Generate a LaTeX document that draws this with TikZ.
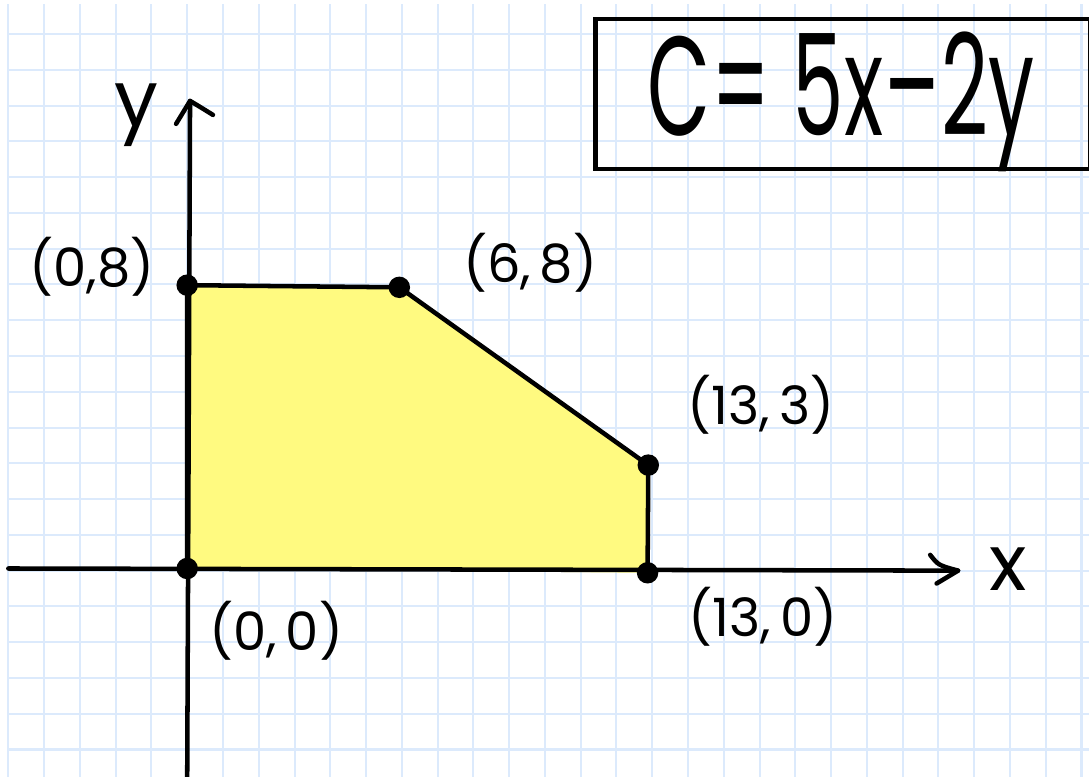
\documentclass[tikz,border=0pt]{standalone}
\usepackage{fontspec}
\setmainfont{Poppins}
\definecolor{gridblue}{RGB}{220,234,252}
\definecolor{fillyellow}{RGB}{255,250,128}
\begin{document}
\begin{tikzpicture}[x=1cm,y=1cm,
  gridline/.style={draw=gridblue, line width=1.6pt},
  ink/.style={draw=black, line width=3.6pt, line cap=round, line join=round},
  vertex/.style={circle, fill=black, inner sep=0pt, minimum size=0.6cm},
  lab/.style={font=\fontsize{42}{46}\selectfont, inner sep=0pt},
  axlab/.style={font=\fontsize{62}{66}\selectfont, inner sep=0pt},
  formula/.style={font=\fontsize{100}{110}\selectfont, inner sep=0pt, anchor=base west}]
\useasboundingbox (-5.233,-5.742) rectangle (25.21,15.952);
\clip (-5.233,-5.742) rectangle (25.21,15.952);
% graph paper
\draw[gridline, step=1cm] (-5,-5.8) grid (25.3,15.84);
% vertices of the region
\coordinate (pO) at (0,0.06);
\coordinate (pA) at (0,7.98);
\coordinate (pB) at (5.93,7.92);
\coordinate (pC) at (12.89,2.95);
\coordinate (pD) at (12.87,-0.06);
\fill[fillyellow] (pO) -- (pA) -- (pB) -- (pC) -- (pD) -- cycle;
% axes
\coordinate (ybot) at (0,-5.9);
\coordinate (ytip) at (0.08,13.13);
\coordinate (ybl) at (-0.31,12.49);
\coordinate (ybr) at (0.72,12.74);
\coordinate (xleft) at (-5,0.06);
\coordinate (xtip) at (21.55,0);
\coordinate (xbu) at (20.77,0.44);
\coordinate (xbd) at (20.95,-0.36);
\draw[ink] (ybot) -- (ytip);
\draw[ink] (ybl) -- (ytip) .. controls (0.3,13.0) .. (ybr);
\draw[ink] (xleft) -- (xtip);
\draw[ink] (xbu) .. controls (21.0,0.15) .. (xtip) -- (xbd);
% edges of the region
\draw[ink] (pO) -- (pA) -- (pB) -- (pC) -- (pD);
% vertex dots
\node[vertex] (O) at (pO) {};
\node[vertex] (A) at (pA) {};
\node[vertex] (B) at (pB) {};
\node[vertex] (C) at (pC) {};
\node[vertex] (D) at (pD) {};
% labels
\node[lab] (l08) at (-2.66,8.49) {(0,8)};
\node[lab] (l68) at (9.59,8.60) {(6,\,8)};
\node[lab] (l133) at (16.04,4.63) {(13,\,3)};
\node[lab] (l130) at (16.10,-1.30) {(13,\,0)};
\node[lab] (l00) at (2.49,-1.69) {(0,\,0)};
\node[axlab] (ylab) at (-1.43,12.74) {y};
\node[axlab] (xlab) at (22.95,0.05) {x};
% objective function box
\node[draw=black, line width=3.6pt, inner sep=0pt, minimum width=13.83cm, minimum height=4.2cm, anchor=north west] (box) at (11.35,15.49) {};
\node[formula] (obj) at (12.85,12.17) {\scalebox{0.65}[1.12]{C\kern2pt=\ 5x\kern2pt–\kern2pt2y}};
\end{tikzpicture}
\end{document}
